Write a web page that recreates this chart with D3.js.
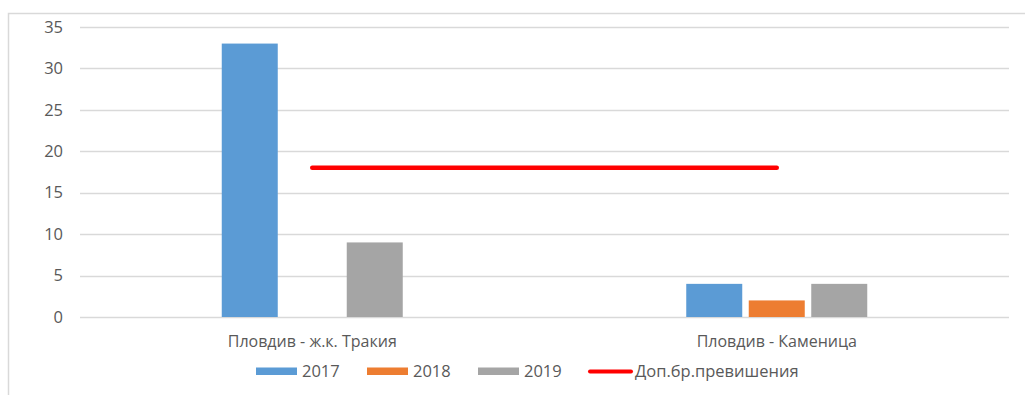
<!DOCTYPE html>
<html>
<head>
<meta charset="utf-8">
<script src="https://cdn.jsdelivr.net/npm/d3@7"></script>
<style>
  html, body { margin: 0; padding: 0; background: #fff; }
  svg { display: block; }
  text { font-family: "Open Sans", "Liberation Sans", Arial, sans-serif; fill: #595959; }
</style>
</head>
<body>
<script>
// Stations and measured exceedance counts per year
const categories = ["Пловдив - ж.к. Тракия", "Пловдив - Каменица"];
const seriesNames = ["2017", "2018", "2019"];
const values2017 = [33, 4];
const values2018 = [0, 2];
const values2019 = [9, 4];
const allowedExceedances = [18, 18];
const limitName = "Доп.бр.превишения";
const yTicks = [0, 5, 10, 15, 20, 25, 30, 35];

const seriesValues = [values2017, values2018, values2019];
const colors = ["#5B9BD5", "#ED7D31", "#A5A5A5"];
const limitColor = "#FF0000";
const FONT = "'Open Sans', 'Liberation Sans', Arial, sans-serif";

const W = 1025, H = 395;
const svg = d3.select("body").append("svg").attr("width", W).attr("height", H);

// Chart frame (extends past the right and bottom edges)
svg.append("rect")
  .attr("x", 8.5).attr("y", 13.5)
  .attr("width", W + 20).attr("height", H + 20)
  .attr("fill", "#fff").attr("stroke", "#D9D9D9").attr("stroke-width", 1.5);

const plot = { left: 80, right: 1009, top: 27, bottom: 317 };

const x = d3.scaleBand().domain(categories).range([plot.left, plot.right]);
const y = d3.scaleLinear().domain([0, 35]).range([plot.bottom, plot.top]);

// Horizontal gridlines
svg.append("g").selectAll("line").data(yTicks).join("line")
  .attr("x1", plot.left).attr("x2", plot.right)
  .attr("y1", d => Math.round(y(d)) + 0.5).attr("y2", d => Math.round(y(d)) + 0.5)
  .attr("stroke", "#D9D9D9").attr("stroke-width", 1.3);

// Y axis labels
const yAxis = d3.axisLeft(y).tickValues(yTicks).tickSize(0).tickPadding(0);
const yg = svg.append("g").attr("transform", `translate(${plot.left - 17},0)`).call(yAxis);
yg.attr("font-size", null).attr("font-family", null);
yg.select(".domain").remove();
yg.selectAll("text").attr("font-size", 16.5).attr("fill", "#595959")
  .style("font-family", FONT);

// Bars, centred on each category with fixed width
const barW = 56, groupStep = 62.5;
const groups = svg.append("g").selectAll("g").data(categories).join("g")
  .attr("transform", d => `translate(${x(d) + x.bandwidth() / 2},0)`);
groups.selectAll("rect")
  .data((c, ci) => seriesValues.map((vals, si) => ({ si, v: vals[ci] })))
  .join("rect")
  .attr("x", d => (d.si - 1) * groupStep - barW / 2)
  .attr("width", barW)
  .attr("y", d => y(d.v))
  .attr("height", d => y(0) - y(d.v))
  .attr("fill", d => colors[d.si]);

// Allowed exceedances line between category centres
const line = d3.line()
  .x((d, i) => x(categories[i]) + x.bandwidth() / 2)
  .y(d => y(d));
svg.append("path").datum(allowedExceedances)
  .attr("d", line)
  .attr("fill", "none").attr("stroke", limitColor)
  .attr("stroke-width", 4.5).attr("stroke-linecap", "round");

// Category labels
const xAxis = d3.axisBottom(x).tickSize(0).tickPadding(0);
const xg = svg.append("g").attr("transform", `translate(0,${plot.bottom})`).call(xAxis);
xg.attr("font-size", null).attr("font-family", null);
xg.select(".domain").remove();
xg.selectAll("text").attr("font-size", 16).attr("fill", "#595959")
  .attr("y", 24).attr("dy", "0.35em")
  .style("font-family", FONT);

// Legend
const legendY = 371;
const legendItems = [
  { name: seriesNames[0], color: colors[0], x: 256, type: "bar" },
  { name: seriesNames[1], color: colors[1], x: 367, type: "bar" },
  { name: seriesNames[2], color: colors[2], x: 478, type: "bar" },
  { name: limitName, color: limitColor, x: 589, type: "line" }
];
const lg = svg.append("g").selectAll("g").data(legendItems).join("g")
  .attr("transform", d => `translate(${d.x},${legendY})`);
lg.filter(d => d.type === "bar").append("rect")
  .attr("x", 0).attr("y", -3.5).attr("width", 41).attr("height", 7.5)
  .attr("fill", d => d.color);
lg.filter(d => d.type === "line").append("line")
  .attr("x1", 1).attr("x2", 42).attr("y1", 0.5).attr("y2", 0.5)
  .attr("stroke", d => d.color).attr("stroke-width", 4).attr("stroke-linecap", "round");
lg.append("text")
  .attr("x", 46)
  .attr("y", 0).attr("dy", "0.35em")
  .attr("font-size", 16.5)
  .style("font-family", FONT)
  .text(d => d.name);
</script>
</body>
</html>
